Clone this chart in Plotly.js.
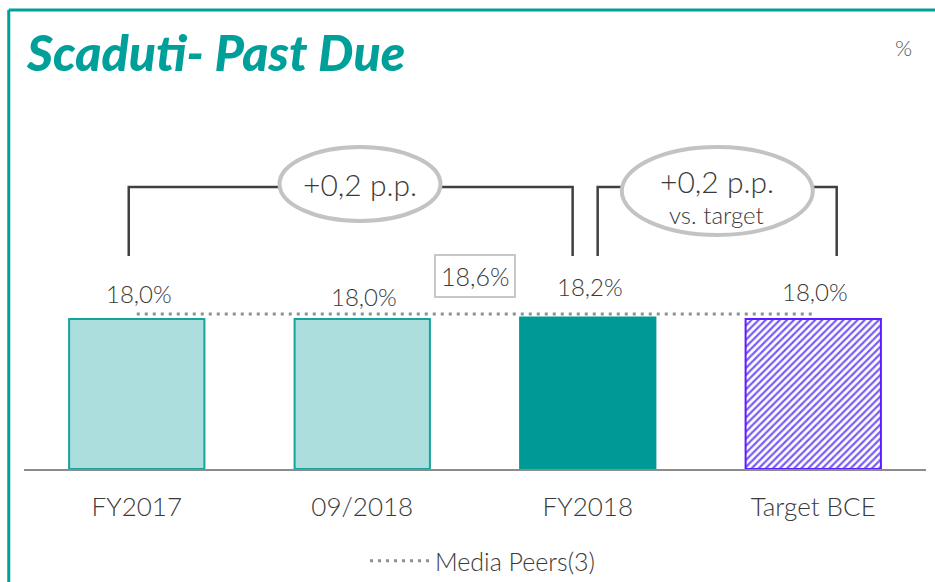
<!DOCTYPE html>
<html>
<head>
<meta charset="utf-8">
<script src="https://cdn.plot.ly/plotly-3.0.1.min.js"></script>
<style>html,body{margin:0;padding:0;background:#fff;}#chart{width:935px;height:582px;}</style>
</head>
<body>
<div id="chart"></div>
<script>
// ---- data ----
var categories = ["FY2017", "09/2018", "FY2018", "Target BCE"];
var values = [18.0, 18.0, 18.2, 18.0];
var valueLabels = ["18,0%", "18,0%", "18,2%", "18,0%"];
var peersValue = 18.6;
var peersLabel = "18,6%";
var peersName = "Media Peers(3)";
var deltaLabel1 = "+0,2 p.p.";
var deltaLabel2 = "+0,2 p.p.";
var deltaSub2 = "vs. target";

var FONT = "Lato, 'Noto Sans', sans-serif";
var TEAL = "#00a09a";
var TXT = "#3a3a3a";
var idx = categories.map(function(c, i){ return i; });

var solidIdx = [0, 1, 2];
var barTrace = {
  type: "bar",
  x: solidIdx.map(function(i){ return idx[i]; }),
  y: solidIdx.map(function(i){ return values[i]; }),
  width: 0.6,
  showlegend: false,
  hoverinfo: "skip",
  marker: {
    color: ["#abdedd", "#abdedd", "#009a96"],
    line: { color: ["#16a39e", "#16a39e", "#009a96"], width: 2 }
  }
};
var targetTrace = {
  type: "bar",
  x: [idx[3]],
  y: [values[3]],
  width: 0.6,
  showlegend: false,
  hoverinfo: "skip",
  marker: {
    color: "#ffffff",
    line: { color: "#5a1eff", width: 2 },
    pattern: { shape: "/", fgcolor: "#7a5cf5", bgcolor: "#ffffff", size: 5, solidity: 0.45, fillmode: "replace" }
  }
};

var peersTrace = {
  type: "scatter",
  mode: "lines",
  x: idx,
  y: idx.map(function(){ return peersValue; }),
  name: peersName,
  line: { color: "#8a9199", width: 3, dash: "3px,5px" },
  hoverinfo: "skip"
};

var LBL = { family: FONT, size: 24, color: TXT, weight: 300 };
var labelShift = [26, 23, 31, 28];
var annotations = values.map(function(v, i){
  return { x: idx[i], y: v, xref: "x", yref: "y", text: valueLabels[i], showarrow: false,
    yanchor: "middle", yshift: labelShift[i], xshift: 2, font: LBL };
});
annotations.push({ x: 1.5, y: peersValue, xref: "x", yref: "y", text: peersLabel, showarrow: false,
  yanchor: "middle", yshift: 38, bordercolor: "#c8c8c8", borderwidth: 2, borderpad: 5, bgcolor: "#fff",
  font: { family: FONT, size: 25, color: TXT, weight: 300 } });
annotations.push({ x: 0.99, y: 34.2, xref: "x", yref: "y", text: deltaLabel1, showarrow: false,
  font: { family: FONT, size: 30, color: TXT, weight: 300 } });
annotations.push({ x: 2.572, y: 34.6, xref: "x", yref: "y", text: deltaLabel2, showarrow: false,
  font: { family: FONT, size: 30, color: TXT, weight: 300 } });
annotations.push({ x: 2.572, y: 30.5, xref: "x", yref: "y", text: deltaSub2, showarrow: false,
  font: { family: FONT, size: 24, color: TXT, weight: 300 } });
annotations.push({ x: (904-24.25)/902, y: (469-48)/369, xref: "paper", yref: "paper", xanchor: "center", yanchor: "middle",
  text: "%", showarrow: false, font: { family: FONT, size: 22, color: "#555", weight: 300 } });

var BR = { color: "#404040", width: 2.5 };
var yTop = 33.86, yBot = 25.57;
var shapes = [
  { type: "line", xref: "paper", yref: "paper", x0: (9-24.25)/902, x1: (940-24.25)/902, y0: (469-10)/369, y1: (469-10)/369, line: { color: TEAL, width: 3 } },
  { type: "line", xref: "paper", yref: "paper", x0: (9-24.25)/902, x1: (9-24.25)/902, y0: (469-10)/369, y1: (469-590)/369, line: { color: TEAL, width: 3 } },
  { type: "path", xref: "x", yref: "y", path: "M -0.0355 " + yBot + " L -0.0355 " + yTop + " L 0.633 " + yTop, line: BR },
  { type: "path", xref: "x", yref: "y", path: "M 1.347 " + yTop + " L 1.933 " + yTop + " L 1.933 " + yBot, line: BR },
  { type: "circle", xref: "x", yref: "y", x0: 0.633, x1: 1.347, y0: 29.77, y1: 38.66, line: { color: "#c3c3c3", width: 4 }, fillcolor: "rgba(255,255,255,0)" },
  { type: "path", xref: "x", yref: "y", path: "M 2.044 " + yBot + " L 2.044 " + yTop + " L 2.151 " + yTop, line: BR },
  { type: "path", xref: "x", yref: "y", path: "M 2.998 " + yTop + " L 3.104 " + yTop + " L 3.104 " + yBot, line: BR },
  { type: "circle", xref: "x", yref: "y", x0: 2.151, x1: 2.998, y0: 28.09, y1: 38.66, line: { color: "#c3c3c3", width: 4 }, fillcolor: "rgba(255,255,255,0)" }
];

var layout = {
  width: 935, height: 582,
  margin: { l: 24, r: 9, t: 100, b: 113, autoexpand: false },
  paper_bgcolor: "#fff", plot_bgcolor: "#fff",
  title: { text: "Scaduti- Past Due", x: 27/935, xanchor: "left", xref: "container", y: 1 - 53/582, yref: "container", yanchor: "middle",
    font: { family: FONT, size: 50, weight: 900, style: "italic", color: TEAL } },
  xaxis: { range: [-0.5, 3.5], tickmode: "array", tickvals: idx, ticktext: categories, showgrid: false, zeroline: false,
    showline: true, linecolor: "#8c8c8c", linewidth: 2, ticks: "", ticklabelstandoff: 14,
    tickfont: { family: FONT, size: 26, color: TXT, weight: 300 }, fixedrange: true },
  yaxis: { range: [0, 44.3], visible: false, showgrid: false, zeroline: false, fixedrange: true },
  barmode: "overlay",
  showlegend: true,
  legend: { orientation: "h", x: 0.5 + 8/902, xanchor: "center", y: (469-561)/369, yanchor: "middle",
    font: { family: FONT, size: 25, color: TXT, weight: 300 }, itemwidth: 60 },
  shapes: shapes,
  annotations: annotations
};

Plotly.newPlot("chart", [barTrace, targetTrace, peersTrace], layout, { displayModeBar: false, staticPlot: true });
</script>
</body>
</html>
